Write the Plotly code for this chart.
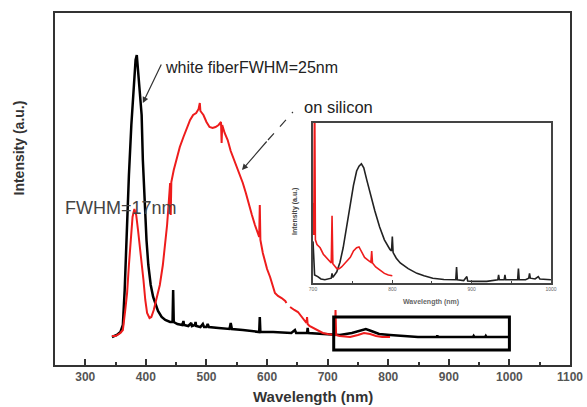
import plotly.graph_objects as go

# ---------------- main spectrum data (wavelength nm, intensity a.u.) ----------------
black_wl = [344, 352, 358, 362, 365, 368, 372, 376, 380, 383, 385, 387, 389, 391, 393, 395, 398,
            401, 404, 408, 412, 416, 420, 426, 432, 440, 444, 445, 446, 452, 460, 462, 463, 470,
            475, 476, 481, 482, 483, 490, 494, 496, 500, 502, 504, 520, 538, 540, 542, 560, 587,
            588, 589, 610, 640, 646, 648, 666, 667, 668, 690, 704, 720, 740, 755, 763, 772, 785,
            803, 830, 849, 880, 881, 882, 940, 941, 942, 960, 961, 962, 980, 1000]
black_int = [28, 30, 33, 40, 75, 130, 190, 240, 285, 305, 310, 295, 275, 262, 250, 205, 160,
             125, 100, 80, 68, 60, 54, 48, 45, 43, 43, 75, 43, 41, 40, 44, 40, 39,
             42, 39, 40, 43, 39, 38, 41, 38, 38, 41, 38, 37, 36, 42, 36, 35, 33,
             48, 33, 33, 32, 35, 32, 32, 37, 32, 31, 30, 30, 32, 35, 36, 34, 31,
             30, 29, 28, 28, 29.5, 28, 28, 29, 28, 28, 29, 28, 28, 28]

red_wl = [344, 350, 358, 362, 366, 369, 372, 375, 378, 381, 384, 387, 390, 393, 396, 399, 402,
          406, 409, 413, 418, 423, 428, 431, 435, 438, 440, 441, 442, 446, 450, 456, 462, 468,
          473, 478, 483, 487, 489, 490, 495, 500, 505, 510, 515, 520, 524, 525, 526, 530, 535,
          540, 545, 550, 555, 560, 565, 570, 575, 580, 585, 587, 588, 589, 593, 600, 605, 610,
          613, 618, 624, 630, 632, 634, 638, 640, 645, 651, 656, 660, 665, 666, 667, 670, 676,
          684, 692, 700, 707, 712, 713, 714, 720, 737, 750, 760, 770, 780, 790, 803]
red_int = [29, 29, 32, 35, 55, 72, 100, 125, 148, 156, 150, 135, 120, 105, 85, 65, 52,
           47, 48, 55, 68, 80, 100, 115, 140, 165, 182, 150, 183, 195, 205, 218, 228, 238,
           245, 250, 252, 256, 262, 254, 250, 243, 238, 237, 238, 240, 243, 222, 240, 232, 225,
           214, 206, 198, 191, 182, 172, 160, 150, 140, 132, 128, 160, 125, 112, 96, 88, 78,
           72, 69, 67, 64, 62, None, 58, 57, 55, 53, 49, 45, 42, 48, 41, 39, 37,
           34, 32, 31, 30, 30, 55, 30, 29, 28, 30, 32, 31, 29, 28, 28]

# ---------------- inset data (700-1000 nm, normalised) ----------------
in_black_wl = [700, 702, 706, 710, 715, 720, 723, 724, 725, 730, 734, 738, 742, 747, 751, 755,
               758, 761, 764, 768, 772, 778, 784, 790, 797, 799, 800, 801, 805, 810, 820, 831,
               840, 851, 865, 877, 880, 881, 882, 890, 894, 895, 902, 919, 930, 933, 934, 935,
               941, 942, 943, 950, 958, 959, 960, 968, 972, 973, 974, 980, 984, 986, 1000]
in_black_int = [0.26, 0.05, 0.04, 0.025, 0.02, 0.025, 0.03, 0.06, 0.035, 0.07, 0.13, 0.22, 0.34,
                0.5, 0.61, 0.7, 0.73, 0.745, 0.72, 0.64, 0.56, 0.45, 0.35, 0.27, 0.21, 0.2, 0.29,
                0.19, 0.155, 0.125, 0.09, 0.06, 0.045, 0.03, 0.022, 0.02, 0.02, 0.1, 0.02, 0.015,
                0.04, 0.012, 0.01, 0.01, 0.015, 0.02, 0.05, 0.02, 0.02, 0.05, 0.02, 0.02, 0.02,
                0.09, 0.02, 0.02, 0.03, 0.06, 0.03, 0.025, 0.04, 0.025, 0.02]

in_red_wl = [700, 701, 702, 703, 705, 709, 713, 717, 720, 723, 724, 725, 730, 733, 736, 741,
             747, 751, 755, 758, 761, 765, 770, 773, 774, 775, 779, 784, 790, 795, 800]
in_red_int = [0.5, 0.3, 1.3, 0.27, 0.24, 0.22, 0.18, 0.16, 0.14, 0.125, 0.42, 0.12, 0.09, 0.09,
              0.1, 0.125, 0.16, 0.2, 0.22, 0.225, 0.2, 0.16, 0.14, 0.13, 0.2, 0.125, 0.1, 0.08,
              0.06, 0.05, 0.045]

main_ticks = [300, 400, 500, 600, 700, 800, 900, 1000, 1100]
inset_ticks = [700, 800, 900, 1000]

FONT = "Liberation Sans, Arial, sans-serif"

fig = go.Figure()
fig.add_trace(go.Scatter(x=black_wl, y=black_int, mode="lines",
                         line=dict(color="black", width=2.5), xaxis="x", yaxis="y"))
fig.add_trace(go.Scatter(x=red_wl, y=red_int, mode="lines",
                         line=dict(color="#ee1c1c", width=2), xaxis="x", yaxis="y"))
fig.add_trace(go.Scatter(x=in_black_wl, y=in_black_int, mode="lines",
                         line=dict(color="#222222", width=1.6), xaxis="x2", yaxis="y2"))
fig.add_trace(go.Scatter(x=in_red_wl, y=in_red_int, mode="lines",
                         line=dict(color="#ee1c1c", width=1.6), xaxis="x2", yaxis="y2"))

fig.update_layout(
    width=587, height=407,
    margin=dict(l=55, r=17, t=13, b=42, pad=0, autoexpand=False),
    paper_bgcolor="white", plot_bgcolor="white",
    showlegend=False,
    xaxis=dict(domain=[0, 1], range=[250, 1100], anchor="y", automargin=False,
               tickmode="array", tickvals=main_ticks, ticktext=[str(t) for t in main_ticks],
               ticks="inside", ticklen=6, tickwidth=1.5, tickcolor="#333",
               minor=dict(ticks="inside", ticklen=3, tickwidth=1.5, tickcolor="#333",
                          tickmode="array", tickvals=[350, 450, 550, 650, 750, 850, 950, 1050]),
               showline=True, mirror=True, linecolor="#333", linewidth=2,
               showgrid=False, zeroline=False,
               tickfont=dict(family=FONT, size=12, color="#555", weight="bold"),
               ticklabelstandoff=0),
    yaxis=dict(domain=[0, 1], range=[0, 352], anchor="x", automargin=False,
               showticklabels=False, ticks="",
               showline=True, mirror=True, linecolor="#333", linewidth=2,
               showgrid=False, zeroline=False),
    xaxis2=dict(domain=[0.501, 0.963], range=[700, 1000], anchor="y2", automargin=False,
                tickmode="array", tickvals=inset_ticks, ticktext=[str(t) for t in inset_ticks],
                ticks="inside", ticklen=3, tickcolor="#444",
                minor=dict(ticks="inside", ticklen=2, tickcolor="#444",
                           tickmode="array", tickvals=[750, 850, 950]),
                showline=True, mirror=True, linecolor="#444", linewidth=1.5,
                showgrid=False, zeroline=False,
                tickfont=dict(family=FONT, size=5, color="#666")),
    yaxis2=dict(domain=[0.233, 0.6875], range=[0, 1], anchor="x2", automargin=False,
                showticklabels=False, ticks="",
                showline=True, mirror=True, linecolor="#444", linewidth=1.5,
                showgrid=False, zeroline=False),
)

# highlighted region box
fig.add_shape(type="rect", xref="x", yref="y", x0=710, x1=1000, y0=15, y1=48,
              line=dict(color="black", width=3))

def px_x(p):
    return (p - 55) / 515.0

def px_y(p):
    return (365 - p) / 352.0

ann = []
# axis titles
ann.append(dict(text="<b>Wavelength (nm)</b>", xref="paper", yref="paper",
                x=px_x(313), y=px_y(396), xanchor="center", yanchor="middle", showarrow=False,
                font=dict(family=FONT, size=15, color="#333")))
ann.append(dict(text="<b>Intensity (a.u.)</b>", xref="paper", yref="paper",
                x=px_x(18.5), y=px_y(148), xanchor="center", yanchor="middle",
                showarrow=False, textangle=-90,
                font=dict(family=FONT, size=14, color="#333")))
# inset titles
ann.append(dict(text="<b>Wavelength (nm)</b>", xref="paper", yref="paper",
                x=px_x(431), y=px_y(302), xanchor="center", yanchor="middle", showarrow=False,
                font=dict(family=FONT, size=7, color="#666")))
ann.append(dict(text="<b>Intensity (a.u.)</b>", xref="paper", yref="paper",
                x=px_x(295), y=px_y(212), xanchor="center", yanchor="middle",
                showarrow=False, textangle=-90,
                font=dict(family=FONT, size=7, color="#444")))
# labels
ann.append(dict(text="white fiberFWHM=25nm", xref="x", yref="y", x=428, y=298,
                xanchor="left", yanchor="middle", showarrow=False,
                font=dict(family=FONT, size=16, color="#222")))
ann.append(dict(text="on silicon", xref="x", yref="y", x=657, y=258,
                xanchor="left", yanchor="middle", showarrow=False,
                font=dict(family=FONT, size=16.5, color="#222")))
ann.append(dict(text="FWHM=17nm", xref="x", yref="y", x=263, y=157,
                xanchor="left", yanchor="middle", showarrow=False,
                font=dict(family=FONT, size=18, color="#444")))
# arrows
ann.append(dict(text="", xref="x", yref="y", x=395, y=262, axref="x", ayref="y",
                ax=426.6, ay=302, showarrow=True, arrowhead=2, arrowsize=1,
                arrowwidth=1.2, arrowcolor="#333"))
ann.append(dict(text="", xref="x", yref="y", x=558.6, y=195, axref="x", ayref="y",
                ax=601.5, ay=225, showarrow=True, arrowhead=2, arrowsize=1,
                arrowwidth=1.2, arrowcolor="#333"))
fig.update_layout(annotations=ann)
fig.add_shape(type="line", xref="x", yref="y", x0=601.5, y0=225, x1=642.7, y1=253,
              line=dict(color="#333", width=1.2, dash="dash"))

fig.write_html("out.html", config={"displayModeBar": False},
               post_script="document.body.style.margin='0';")
